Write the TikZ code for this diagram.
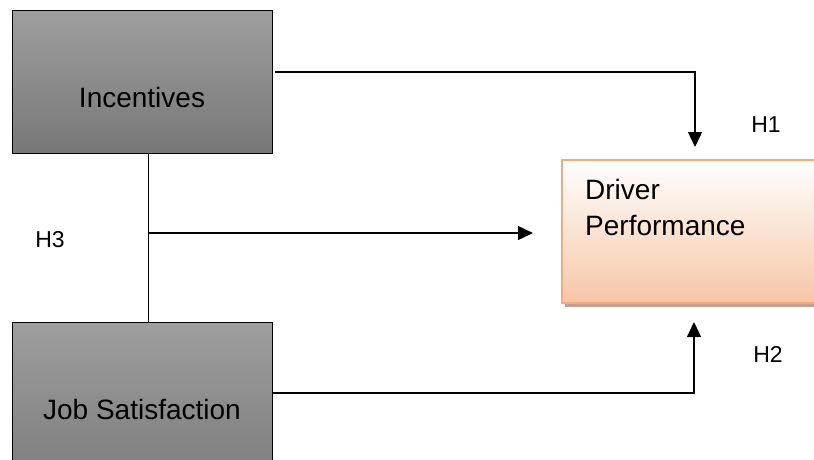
\documentclass[tikz,border=0pt]{standalone}
\usepackage{fontspec}
\setmainfont{Liberation Sans}
\usetikzlibrary{arrows.meta}
\definecolor{grayTop}{RGB}{158,158,158}
\definecolor{grayBot}{RGB}{120,120,120}
\definecolor{peachBot}{RGB}{246,198,166}
\definecolor{peachLine}{RGB}{242,172,128}
\definecolor{shadowC}{RGB}{196,160,140}
\tikzset{
  graybox/.style={draw=black, line width=1pt, top color=grayTop, bottom color=grayBot, minimum width=260pt, inner sep=0pt},
  boxtext/.style={font=\fontsize{28}{34}\selectfont, inner sep=0pt},
  hlabel/.style={font=\fontsize{23}{28}\selectfont, inner sep=0pt},
  conn/.style={line width=1.4pt},
  arr/.style={conn, -{Triangle[length=15pt,width=14pt]}}
}
\begin{document}
\begin{tikzpicture}[x=1pt,y=-1pt]
\clip (0,0) rectangle (814,459);
\fill[white] (0,0) rectangle (814,459);
% boxes
\node[graybox, minimum height=143pt] (inc) at (142,81.5) {};
\node[boxtext] (incT) at (142,97) {Incentives};
\node[graybox, minimum height=180pt] (job) at (142,412) {};
\node[boxtext] (jobT) at (142,409) {Job Satisfaction};
% driver performance
\fill[shadowC] (565,163) rectangle (820,307);
\node[draw=peachLine, line width=1.5pt, top color=white, bottom color=peachBot, minimum width=262pt, minimum height=143pt, inner sep=0pt] (dp) at (693,231.5) {};
\node[boxtext, anchor=base west, align=left] (dpT) at (585,199) {Driver};
\node[boxtext, anchor=base west] (dpT2) at (585,235) {Performance};
% connectors
\coordinate (vtop) at (148,153);
\coordinate (vbot) at (148,322);
\draw[line width=1pt] (vtop) -- (vbot);
\coordinate (h3s) at (148,233);
\coordinate (h3e) at (533,233);
\draw[arr] (h3s) -- (h3e);
\coordinate (h1s) at (275,72);
\coordinate (h1e) at (695,147);
\draw[arr] (h1s) -| (h1e);
\coordinate (h2s) at (272,393);
\coordinate (h2e) at (694,322);
\draw[arr] (h2s) -| (h2e);
% labels
\node[hlabel] (H1) at (766,125) {H1};
\node[hlabel] (H2) at (768,354) {H2};
\node[hlabel] (H3) at (50,240) {H3};
\end{tikzpicture}
\end{document}
